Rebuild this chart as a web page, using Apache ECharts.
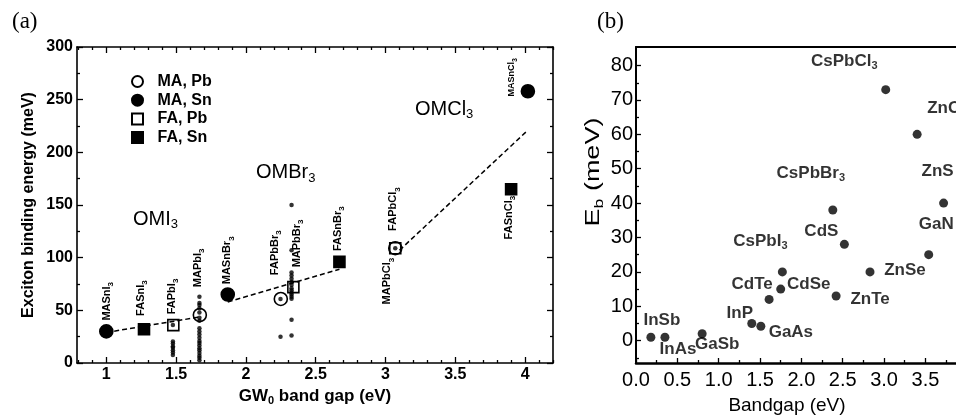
<!DOCTYPE html>
<html><head><meta charset="utf-8">
<script src="https://cdn.jsdelivr.net/npm/echarts@6/dist/echarts.min.js"></script>
<style>html,body{margin:0;padding:0;background:#fff}#c{width:956px;height:419px}</style>
</head><body><div id="c"></div>
<script>
// ---------- Panel (a): GW0 gap vs exciton binding energy ----------
const aNames = ['MASnI3','FASnI3','FAPbI3','MAPbI3','MASnBr3','FAPbBr3','MAPbBr3','FASnBr3','MAPbCl3','FAPbCl3','MASnCl3','FASnCl3'];
const aGap   = [1.00, 1.27, 1.48, 1.67, 1.87, 2.25, 2.34, 2.67, 3.07, 3.07, 4.02, 3.90];
const aEb    = [30, 32, 36, 45.6, 65, 60.8, 72, 96, 109, 109, 258, 165];
const aGroup = ['MA, Sn','FA, Sn','FA, Pb','MA, Pb','MA, Sn','MA, Pb','FA, Pb','FA, Sn','MA, Pb','FA, Pb','MA, Sn','FA, Sn'];
const groups = ['MA, Pb','MA, Sn','FA, Pb','FA, Sn'];
// experimental values (small dots), one column per gap
const expGap = [1.477, 1.667, 2.248, 2.327, 3.07];
const expEb  = [
  [7.5, 10, 12, 14.5, 16, 18.5, 20.5, 36],
  [2.5, 5, 7, 9.5, 12, 14, 16.5, 19, 21, 24, 27, 30, 33, 40, 43, 48, 52, 55, 57, 63],
  [25, 60.8],
  [26, 41, 61, 63, 65, 67, 69, 71, 74, 77, 80, 83, 86, 107, 150],
  [109]
];
// dashed guide lines
const fitIGap = [1.0, 1.66],  fitIEb = [29, 43.5];
const fitBGap = [1.87, 2.67], fitBEb = [58, 89];
const fitCGap = [3.1, 4.02],  fitCEb = [107, 221];
// ticks
const aXTicks = [1, 1.5, 2, 2.5, 3, 3.5, 4];
const aXMinor = [0.8, 0.9, 1.1, 1.2, 1.3, 1.4, 1.6, 1.7, 1.8, 1.9, 2.1, 2.2, 2.3, 2.4, 2.6, 2.7, 2.8, 2.9, 3.1, 3.2, 3.3, 3.4, 3.6, 3.7, 3.8, 3.9, 4.1, 4.2];
const aYTicks = [0, 50, 100, 150, 200, 250, 300];
const aYMinor = [25, 75, 125, 175, 225, 275];

// ---------- Panel (b): bandgap vs Eb ----------
const bNames = ['InSb','InAs','GaSb','InP','GaAs','CdTe','CdSe','CsPbI3','CsPbBr3','CdS','ZnTe','ZnSe','GaN','ZnS','ZnO','CsPbCl3'];
const bGap   = [0.18, 0.35, 0.80, 1.40, 1.51, 1.61, 1.75, 1.77, 2.38, 2.52, 2.42, 2.83, 3.54, 3.72, 3.40, 3.02];
const bEb    = [1, 1, 2, 5, 4.2, 12, 15, 20, 38, 28, 13, 20, 25, 40, 60, 73];
const bXTicks = [0, 0.5, 1, 1.5, 2, 2.5, 3, 3.5];
const bXMinor = [0.25, 0.75, 1.25, 1.75, 2.25, 2.75, 3.25, 3.75];
const bYTicks = [0, 10, 20, 30, 40, 50, 60, 70, 80];
const bYMinor = [-5, 5, 15, 25, 35, 45, 55, 65, 75];

// ---------- layout / style (not data) ----------
const F = "'Liberation Sans', Arial, Helvetica, sans-serif";
const FS = "'Liberation Serif', 'Times New Roman', serif";
const K = '#000';
const aSym = {
  'MA, Pb': {symbol: 'circle', size: 13, fill: 'rgba(0,0,0,0)'},
  'MA, Sn': {symbol: 'circle', size: 13, fill: '#000'},
  'FA, Pb': {symbol: 'rect', size: 11, fill: 'rgba(0,0,0,0)'},
  'FA, Sn': {symbol: 'rect', size: 11, fill: '#000'}
};
const squareIcon = 'path://M0,0L10,0L10,10L0,10Z';
// label anchor (start of rotated text) relative to point centre, px
const aLabelAt = {MASnI3:[5,-10], FASnI3:[2,-12.6], FAPbI3:[3,-10], MAPbI3:[3,-27], MASnBr3:[4.5,-9.5],
  FAPbBr3:[-1,-23], MAPbBr3:[8,-19], FASnBr3:[3.6,-10], MAPbCl3:[-3,57], FAPbCl3:[3,-16.5],
  MASnCl3:[-12,6], FASnCl3:[2.5,51]};
// label centre relative to point centre, px
const bLabelAt = {InSb:[11,-17], InAs:[13,12], GaSb:[15,11], InP:[-12,-10.5], GaAs:[30,6], CdTe:[-17,-15],
  CdSe:[28,-5], CsPbI3:[-22,-26], CsPbBr3:[-22,-32], CdS:[-23,-13.4], ZnTe:[34,3], ZnSe:[35,-2],
  GaN:[7.5,-30], ZnS:[-6,-32], ZnO:[27,-26], CsPbCl3:[-41.5,-23.4]};

function subText(nm) {
  const m = nm.match(/^(.*?)(\d*)$/);
  return m[2] ? '{n|' + m[1] + '}{s|' + m[2] + '}' : '{n|' + m[1] + '}';
}
// subscript: both tokens top-aligned, the subscript token is taller so its text sits lower
function richSub(n, s, hn, hs, weight) {
  return {
    n: {fontFamily: F, fontSize: n, fontWeight: weight, color: K, height: hn, verticalAlign: 'top'},
    s: {fontFamily: F, fontSize: s, fontWeight: weight, color: K, height: hs, verticalAlign: 'top'}
  };
}
const richA11 = richSub(11, 8, 12, 20, 'bold');
const richA9 = richSub(9, 7, 10, 17, 'bold');
const richB = richSub(17, 11, 18, 27, 'bold');
const richOM = {
  m: {fontFamily: F, fontSize: 20, color: K, height: 20, verticalAlign: 'top'},
  s: {fontFamily: F, fontSize: 13, color: K, height: 31, verticalAlign: 'top'}
};

const series = [];
groups.forEach(g => {
  const st = aSym[g];
  const data = [];
  aNames.forEach((nm, i) => {
    if (aGroup[i] !== g) return;
    const p = aLabelAt[nm];
    const small = nm === 'MASnCl3';
    data.push({name: nm, value: [aGap[i], aEb[i]], label: {
      show: true, rotate: 90, position: [st.size / 2 + p[0], st.size / 2 + p[1]],
      align: 'left', verticalAlign: 'middle', formatter: subText(nm),
      rich: small ? richA9 : richA11}});
  });
  series.push({name: g, type: 'scatter', xAxisIndex: 0, yAxisIndex: 0, symbol: st.symbol, symbolSize: st.size,
    itemStyle: {color: st.fill, borderColor: K, borderWidth: 1.6, opacity: 1}, data: data, z: 3});
});
const expData = [];
expGap.forEach((x, i) => expEb[i].forEach(v => expData.push([x, v])));
series.push({name: 'exp', type: 'scatter', xAxisIndex: 0, yAxisIndex: 0, symbol: 'circle', symbolSize: 4.5,
  itemStyle: {color: K}, data: expData, z: 4});
[[fitIGap, fitIEb], [fitBGap, fitBEb], [fitCGap, fitCEb]].forEach(f => {
  series.push({type: 'line', xAxisIndex: 0, yAxisIndex: 0, symbol: 'none', silent: true,
    lineStyle: {color: K, width: 1.5, type: [5, 3]},
    data: f[0].map((x, i) => [x, f[1][i]]), z: 2});
});
series.push({name: 'b', type: 'scatter', xAxisIndex: 4, yAxisIndex: 4, symbol: 'circle', symbolSize: 9,
  itemStyle: {color: K}, clip: false,
  data: bNames.map((nm, i) => {
    const p = bLabelAt[nm];
    return {name: nm, value: [bGap[i], bEb[i]], label: {show: true, position: [4.5 + p[0], 4.5 + p[1]],
      align: 'center', verticalAlign: 'middle', formatter: subText(nm), rich: richB}};
  })});

function ax(o) {
  return Object.assign({type: 'value', splitLine: {show: false}, axisLine: {show: false, onZero: false},
    axisTick: {show: false}, axisLabel: {show: false}}, o);
}
const tickA = (vals, len) => ({show: true, inside: true, length: len, customValues: vals, lineStyle: {color: K, width: 1.3}});
const lineA = w => ({show: true, onZero: false, lineStyle: {color: K, width: w}});
// panel (b) is cut by the right edge of the picture
const bXMax = 3.87;

const xAxis = [
  ax({gridIndex: 0, position: 'bottom', min: 0.79, max: 4.2, axisLine: lineA(1.6), axisTick: tickA(aXTicks, 6),
      axisLabel: {show: true, customValues: aXTicks, color: K, fontFamily: F, fontSize: 16, fontWeight: 'bold', margin: 4},
      name: '{m|GW}{s|0}{m| band gap (eV)}', nameLocation: 'middle', nameGap: 18,
      nameTextStyle: {rich: {
        m: {fontFamily: F, fontSize: 17, fontWeight: 'bold', color: K, height: 18, verticalAlign: 'top'},
        s: {fontFamily: F, fontSize: 11, fontWeight: 'bold', color: K, height: 28, verticalAlign: 'top'}}}}),
  ax({gridIndex: 0, position: 'bottom', min: 0.79, max: 4.2, axisTick: tickA(aXMinor, 3)}),
  ax({gridIndex: 0, position: 'top', min: 0.79, max: 4.2, axisLine: lineA(1.6), axisTick: tickA(aXTicks, 6)}),
  ax({gridIndex: 0, position: 'top', min: 0.79, max: 4.2, axisTick: tickA(aXMinor, 3)}),
  ax({gridIndex: 1, position: 'bottom', min: 0, max: bXMax, axisLine: lineA(2.5), axisTick: tickA(bXTicks, 5),
      axisLabel: {show: true, customValues: bXTicks, color: K, fontFamily: F, fontSize: 20, margin: 7,
        formatter: v => v.toFixed(1)}}),
  ax({gridIndex: 1, position: 'bottom', min: 0, max: bXMax, axisTick: tickA(bXMinor, 3)}),
  ax({gridIndex: 1, position: 'top', min: 0, max: bXMax, axisLine: lineA(2)})
];
const yAxis = [
  ax({gridIndex: 0, position: 'left', min: 0, max: 300, axisLine: lineA(1.6), axisTick: tickA(aYTicks, 6),
      axisLabel: {show: true, customValues: aYTicks, color: K, fontFamily: F, fontSize: 16, fontWeight: 'bold', margin: 4},
      name: 'Exciton binding energy (meV)', nameLocation: 'middle', nameGap: 40,
      nameTextStyle: {fontFamily: F, fontSize: 16, fontWeight: 'bold', color: K}}),
  ax({gridIndex: 0, position: 'left', min: 0, max: 300, axisTick: tickA(aYMinor, 3)}),
  ax({gridIndex: 0, position: 'right', min: 0, max: 300, axisLine: lineA(1.6), axisTick: tickA(aYTicks, 6)}),
  ax({gridIndex: 0, position: 'right', min: 0, max: 300, axisTick: tickA(aYMinor, 3)}),
  ax({gridIndex: 1, position: 'left', min: -6.5, max: 85.4, axisLine: lineA(2), axisTick: tickA(bYTicks, 5),
      axisLabel: {show: true, customValues: bYTicks, color: K, fontFamily: F, fontSize: 20, margin: 3}}),
  ax({gridIndex: 1, position: 'left', min: -6.5, max: 85.4, axisTick: tickA(bYMinor, 3)})
];

const graphic = [
  {type: 'text', x: 12, y: 22, style: {text: '(a)', fontFamily: FS, fontSize: 23, fill: K, verticalAlign: 'middle'}},
  {type: 'text', x: 597, y: 22, style: {text: '(b)', fontFamily: FS, fontSize: 23, fill: K, verticalAlign: 'middle'}},
  {type: 'text', x: 133, y: 209, style: {text: '{m|OMI}{s|3}', rich: richOM, verticalAlign: 'top'}},
  {type: 'text', x: 256, y: 162.5, style: {text: '{m|OMBr}{s|3}', rich: richOM, verticalAlign: 'top'}},
  {type: 'text', x: 415, y: 99, style: {text: '{m|OMCl}{s|3}', rich: richOM, verticalAlign: 'top'}},
  {type: 'text', x: 787, y: 396, style: {text: 'Bandgap (eV)', fontFamily: F, fontSize: 19, fill: K, align: 'center', verticalAlign: 'top'}},
  {type: 'text', x: 599, y: 172, rotation: Math.PI / 2, scaleX: 1.35,
    style: {text: '{m|E}{s|b}{m| (meV)}', align: 'center', verticalAlign: 'middle', rich: richOM}}
];

const chart = echarts.init(document.getElementById('c'), null, {renderer: 'canvas'});
chart.setOption({
  animation: false,
  backgroundColor: '#fff',
  grid: [
    {left: 77, top: 47, width: 476, height: 316, containLabel: false},
    {left: 636, top: 47, right: 0, height: 316, containLabel: false}
  ],
  legend: {
    data: [{name: 'MA, Pb', icon: 'circle'}, {name: 'MA, Sn', icon: 'circle'},
           {name: 'FA, Pb', icon: squareIcon}, {name: 'FA, Sn', icon: squareIcon}],
    orient: 'vertical', left: 131, top: 73.5, padding: 0, itemWidth: 30, itemHeight: 11, itemGap: 2.7,
    textStyle: {fontFamily: F, fontSize: 16, fontWeight: 'bold', color: K}, selectedMode: false},
  xAxis: xAxis,
  yAxis: yAxis,
  graphic: graphic,
  series: series
});
</script>
</body></html>
